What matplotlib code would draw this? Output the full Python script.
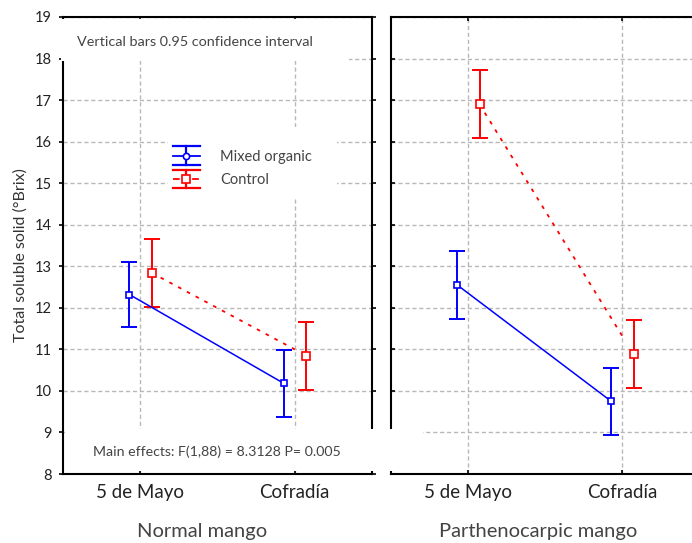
import matplotlib
matplotlib.use("Agg")
import matplotlib.pyplot as plt
from matplotlib.lines import Line2D
from matplotlib.patches import Rectangle
from matplotlib.legend_handler import HandlerBase

plt.rcParams['font.family'] = ['Lato', 'DejaVu Sans']

# data (means and 0.95 CI half-widths)
categories = ['5 de Mayo', 'Cofradía']
panels = ['Normal mango', 'Parthenocarpic mango']
normal_mixed = [12.32, 10.18]
normal_mixed_ci = [0.79, 0.81]
normal_control = [12.84, 10.85]
normal_control_ci = [0.82, 0.82]
parth_mixed = [12.55, 9.75]
parth_mixed_ci = [0.82, 0.81]
parth_control = [16.90, 10.88]
parth_control_ci = [0.82, 0.82]
yticks = list(range(8, 20))

BLUE = '#0000ff'
RED = '#ff0000'
GRID = '#b8b8b8'
off_mixed, off_control = -0.07, 0.075


class ErrHandler(HandlerBase):
    # legend symbol: horizontal caps spanning the handle, marker in the middle
    def create_artists(self, legend, orig_handle, xdescent, ydescent,
                       width, height, fontsize, trans):
        c = orig_handle.get_color()
        ym = height / 2 - ydescent
        dy = 6.8
        xm = width / 2 - xdescent
        arts = [
            Line2D([-xdescent, width - xdescent], [ym, ym], color=c,
                   ls=orig_handle.get_linestyle(), lw=1.3),
            Line2D([-xdescent, width - xdescent], [ym + dy, ym + dy], color=c, lw=1.6),
            Line2D([-xdescent, width - xdescent], [ym - dy, ym - dy], color=c, lw=1.6),
            Line2D([xm, xm], [ym - dy, ym + dy], color=c, lw=1.6),
            Line2D([xm], [ym], color=c, marker=orig_handle.get_marker(), ls='none',
                   ms=orig_handle.get_markersize(), mfc='white', mew=1.2),
        ]
        for a in arts:
            a.set_transform(trans)
        return arts


def draw_panel(ax, mixed, mixed_ci, control, control_ci):
    x = list(range(len(categories)))
    xm = [v + off_mixed for v in x]
    xc = [v + off_control for v in x]
    ax.errorbar(xm, mixed, yerr=mixed_ci, fmt='none', ecolor=BLUE,
                elinewidth=1.4, capsize=5.5, capthick=1.4, zorder=3)
    ax.errorbar(xc, control, yerr=control_ci, fmt='none', ecolor=RED,
                elinewidth=1.4, capsize=5.5, capthick=1.4, zorder=3)
    lm, = ax.plot(xm, mixed, color=BLUE, lw=1.1, zorder=4)
    # control line stops at the second category centre (as in the original software)
    t = (x[1] - xc[0]) / (xc[1] - xc[0])
    y_end = control[0] + t * (control[1] - control[0])
    lc, = ax.plot([xc[0], x[1]], [control[0], y_end], color=RED, lw=1.3,
                  ls=(0, (2, 3.5)), zorder=4)
    ax.plot(xm, mixed, ls='none', marker='s', ms=4.2, mfc='white', mec=BLUE,
            mew=1.2, zorder=5)
    ax.plot(xc, control, ls='none', marker='s', ms=5.5, mfc='white', mec=RED,
            mew=1.2, zorder=5)

    ax.set_xlim(-0.5, 1.5)
    ax.set_ylim(8, 19)
    ax.set_xticks(x)
    ax.set_xticklabels(categories, fontsize=13.5, color='#222222')
    ax.set_yticks(yticks)
    ax.set_axisbelow(True)
    ax.grid(True, color=GRID, ls=(0, (3, 2)), lw=1.0)
    for s in ax.spines.values():
        s.set_linewidth(1.5)
    ax.tick_params(axis='x', direction='in', length=3, width=1.2, pad=7,
                   top=True, bottom=True)
    return lm, lc


fig = plt.figure(figsize=(6.92, 5.43), dpi=100)
ax1 = fig.add_axes([63 / 692, 69 / 543, 309 / 692, 457 / 543])
ax2 = fig.add_axes([391 / 692, 69 / 543, 308 / 692, 457 / 543])

lm, lc = draw_panel(ax1, normal_mixed, normal_mixed_ci, normal_control, normal_control_ci)
draw_panel(ax2, parth_mixed, parth_mixed_ci, parth_control, parth_control_ci)

ax1.set_yticklabels([str(v) for v in yticks], fontsize=10.5, color='#222222')
ax1.tick_params(axis='y', direction='out', length=3, width=1.2, pad=5, left=True)
ax1.tick_params(axis='y', which='major', right=True)
ax2.tick_params(axis='y', direction='in', length=3, width=1.2, left=True,
                right=True, labelleft=False)

ax1.set_ylabel('Total soluble solid (°Brix)', fontsize=11.5, color='#333333')
ax1.yaxis.set_label_coords(-0.115, 0.48)
ax1.set_xlabel(panels[0], fontsize=14.5, color='#444444')
ax1.xaxis.set_label_coords(0.45, -0.108)
ax2.set_xlabel(panels[1], fontsize=14.5, color='#444444')
ax2.xaxis.set_label_coords(0.477, -0.108)

# white boxes behind annotations (hide grid and spine pieces like the original)
ax1.add_patch(Rectangle((-0.006, 0.904), 0.932, 0.092, transform=ax1.transAxes,
                        facecolor='white', edgecolor='none', clip_on=False, zorder=3))
ax1.text(0.045, 0.945, 'Vertical bars 0.95 confidence interval', transform=ax1.transAxes,
         fontsize=10.4, color='#444444', va='center', ha='left', zorder=4)
ax1.add_patch(Rectangle((0.006, 0.007), 1.012, 0.091, transform=ax1.transAxes,
                        facecolor='white', edgecolor='none', clip_on=False, zorder=3))
ax1.text(0.097, 0.048, 'Main effects: F(1,88) = 8.3128 P= 0.005', transform=ax1.transAxes,
         fontsize=10.2, color='#444444', va='center', ha='left', zorder=4)
ax1.add_patch(Rectangle((0.34, 0.604), 0.547, 0.155, transform=ax1.transAxes,
                        facecolor='white', edgecolor='none', zorder=1))
ax2.add_patch(Rectangle((-0.02, 0.007), 0.124, 0.091, transform=ax2.transAxes,
                        facecolor='white', edgecolor='none', clip_on=False, zorder=3))

# marker info for the legend symbols
lm.set_marker('o'); lm.set_markersize(4.5)
lc.set_marker('s'); lc.set_markersize(5.5)
leg = ax1.legend([lm, lc], ['Mixed organic', 'Control'],
                 handler_map={lm: ErrHandler(), lc: ErrHandler()},
                 loc='upper left', bbox_to_anchor=(0.345, 0.717), frameon=False,
                 fontsize=10.5, handlelength=1.9, handleheight=1.0, handletextpad=1.37,
                 labelspacing=0.6, borderaxespad=0, borderpad=0.2)
for txt in leg.get_texts():
    txt.set_color('#444444')
# markers only for the legend: hide them on the lines themselves
lm.set_markevery([])
lc.set_markevery([])

fig.savefig('out.png', dpi=100)
